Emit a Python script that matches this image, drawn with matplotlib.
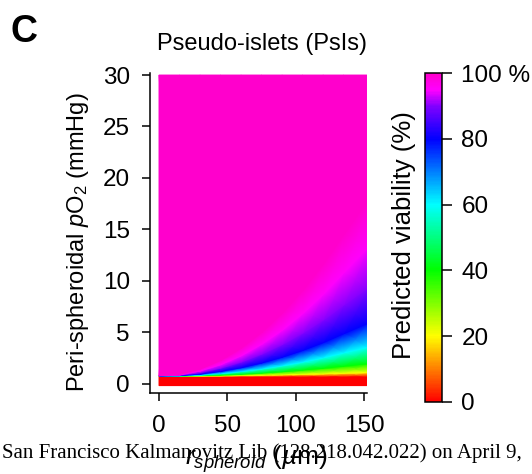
import numpy as np
import matplotlib
matplotlib.use('Agg')
from matplotlib import pyplot as plt
from matplotlib.colors import LinearSegmentedColormap

plt.rcParams['font.family'] = ['Liberation Sans', 'DejaVu Sans']
plt.rcParams['mathtext.fontset'] = 'custom'
plt.rcParams['mathtext.rm'] = 'Liberation Sans'
plt.rcParams['mathtext.it'] = 'Liberation Sans:italic'

# spheroid radius columns (um)
radius = [0, 15, 30, 45, 60, 75, 90, 105, 120, 135, 152]

# viability (%) at each row of the grid, bottom to top
row_viability = [0, 0, 20, 40, 60, 80, 90, 95, 100, 100]

# pO2 (mmHg) where each viability level is reached, per radius column
p_bottom = [-0.2] * 11
p_red_top = [0.68] * 11
p_20 = [0.72, 0.72, 0.73, 0.75, 0.78, 0.81, 0.85, 0.89, 0.94, 1.00, 1.07]
p_40 = [0.73, 0.73, 0.77, 0.83, 0.91, 1.02, 1.15, 1.31, 1.49, 1.69, 1.92]
p_60 = [0.74, 0.75, 0.83, 0.97, 1.17, 1.42, 1.73, 2.09, 2.51, 2.99, 3.52]
p_80 = [0.75, 0.77, 0.92, 1.18, 1.54, 2.00, 2.56, 3.22, 3.98, 4.85, 5.82]
p_90 = [0.76, 0.81, 1.06, 1.49, 2.08, 2.85, 3.78, 4.89, 6.16, 7.61, 9.22]
p_95 = [0.77, 0.84, 1.22, 1.84, 2.70, 3.82, 5.18, 6.80, 8.66, 10.76, 13.12]
p_100 = [0.78, 0.89, 1.40, 2.25, 3.44, 4.97, 6.84, 9.05, 11.60, 14.49, 17.72]
p_top = [30] * 11

P = np.array([p_bottom, p_red_top, p_20, p_40, p_60, p_80, p_90, p_95, p_100, p_top])
R = np.tile(radius, (P.shape[0], 1))
V = np.tile(np.array(row_viability)[:, None], (1, len(radius)))

cmap = LinearSegmentedColormap.from_list('viab', [
    (0.0, '#ff0000'), (0.2, '#ffff00'), (0.4, '#00ff00'), (0.6, '#00ffff'),
    (0.8, '#0000ff'), (0.9, '#8000ff'), (0.95, '#ff00ff'), (1.0, '#ff00cc')])

fig = plt.figure(figsize=(5.32, 4.74), dpi=100)
ax = fig.add_axes([150/532, 1-393/474, 217/532, 320/474])

mesh = ax.pcolormesh(R, P, V, cmap=cmap, vmin=0, vmax=100, shading='gouraud')

ax.set_xlim(-6.6, 152.1)
ax.set_ylim(-0.92, 30.2)
ax.set_xticks([0, 50, 100, 150])
ax.set_yticks([0, 5, 10, 15, 20, 25, 30])
ax.spines['top'].set_visible(False)
ax.spines['right'].set_visible(False)
for s in ['left', 'bottom']:
    ax.spines[s].set_linewidth(1.1)
ax.tick_params(labelsize=17.5, width=1.1, length=6, pad=8.5)
ax.tick_params(axis='x', pad=10)

cax = fig.add_axes([425/532, 1-402/474, 17/532, 329/474])
cb = fig.colorbar(mesh, cax=cax, ticks=[0, 20, 40, 60, 80, 100])
cb.ax.set_yticklabels(['0', '20', '40', '60', '80', '100 %'])
cb.outline.set_linewidth(1.1)
cb.ax.tick_params(labelsize=17.5, width=1.1, length=7, pad=7)

fig.text(404/532, 1-235/474, 'Predicted viability (%)', rotation=90,
         ha='center', va='center', fontsize=18.5)
fig.text(78/532, 1-242/474, r'Peri-spheroidal $p$O$_2$ (mmHg)', rotation=90,
         ha='center', va='center', fontsize=17)
fig.text(262/532, 1-50/474, 'Pseudo-islets (PsIs)', ha='center',
         va='baseline', fontsize=17)
fig.text(10/532, 1-42/474, 'C', fontsize=27, fontweight='bold', va='baseline')
fig.text(256/532, 1-465/474, r'$r_{spheroid}$ ($µ$m)', ha='center',
         va='baseline', fontsize=19)
fig.text(2/532, 1-458/474, 'San Francisco Kalmanovitz Lib (128.218.042.022) on April 9,',
         family='Liberation Serif', fontsize=15, va='baseline')

fig.savefig('out.png', dpi=100)
